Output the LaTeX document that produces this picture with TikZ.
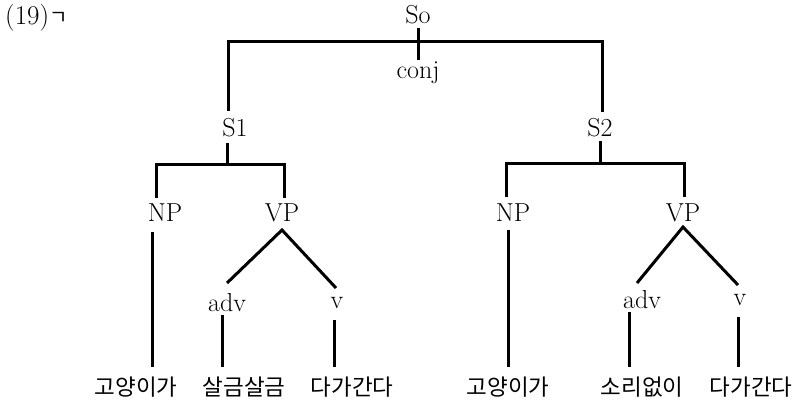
\documentclass[tikz,border=0pt]{standalone}
\usepackage{fontspec}
\newfontfamily\cjk{Noto Sans CJK KR}
\begin{document}
\begin{tikzpicture}[x=1pt,y=-1pt,
  lab/.style={font=\fontsize{26}{29}\selectfont, inner sep=0pt},
  kor/.style={font=\cjk\fontsize{22.5}{26}\selectfont, inner sep=0pt},
  br/.style={line width=3pt, line join=miter}]
\useasboundingbox (0,0) rectangle (803,402);
% title
\node[inner sep=0pt, anchor=west, font=\fontsize{27}{30}\selectfont] (T) at (5,18) {(19){\cjk\fontsize{20}{22}\selectfont ㄱ}};
% labels
\node[lab] (So) at (418,15) {So};
\node[lab] (conj) at (418,73) {conj};
\node[lab] (S1) at (235,128) {S1};
\node[lab] (S2) at (600,128) {S2};
\node[lab] (NP1) at (165,213) {NP};
\node[lab] (VP1) at (282,213) {VP};
\node[lab] (NP2) at (513,213) {NP};
\node[lab] (VP2) at (683,213) {VP};
\node[lab] (adv1) at (227,303) {adv};
\node[lab] (v1) at (337,303) {v};
\node[lab] (adv2) at (642,300) {adv};
\node[lab] (v2) at (740,300) {v};
% words
\node[kor] (w1) at (136,387) {고양이가};
\node[kor] (w2) at (244,387) {살금살금};
\node[kor] (w3) at (352,387) {다가간다};
\node[kor] (w4) at (508,387) {고양이가};
\node[kor] (w5) at (642,387) {소리없이};
\node[kor] (w6) at (751,387) {다가간다};
% connectors
\draw[br] ([yshift=-13pt]So.center) -- ([yshift=13pt]So.center |- conj.center);
\draw[br] ([xshift=-7pt,yshift=17pt]S1.center) -- ++(0,-70) -| ([xshift=2pt,yshift=16pt]S2.center);
\draw[br] ([xshift=-8pt,yshift=-15pt]S1.center) -- ++(0,21);
\draw[br] ([xshift=-9pt,yshift=15pt]NP1.center) -- ++(0,-34) -| ([xshift=2pt,yshift=15pt]VP1.center);
\draw[br] ([yshift=-13pt]S2.center) -- ++(0,22);
\draw[br] ([xshift=-7pt,yshift=16pt]NP2.center) -- ++(0,-34) -| ([xshift=1pt,yshift=16pt]VP2.center);
\draw[br] ([xshift=-13pt,yshift=-19pt]NP1.center) -- ++(0,135);
\draw[br] ([xshift=-5pt,yshift=-17pt]NP2.center) -- ++(0,137);
\draw[br] ([xshift=-55pt,yshift=-70pt]VP1.center) -- ([yshift=-17pt]VP1.center) -- ([xshift=54pt,yshift=-75pt]VP1.center);
\draw[br] ([xshift=-46pt,yshift=-70pt]VP2.center) -- ([yshift=-14pt]VP2.center) -- ([xshift=55pt,yshift=-72pt]VP2.center);
\draw[br] ([xshift=-5pt,yshift=-12pt]adv1.center) -- ++(0,52);
\draw[br] ([xshift=-3pt,yshift=-17pt]v1.center) -- ++(0,47);
\draw[br] ([xshift=-13pt,yshift=-12pt]adv2.center) -- ++(0,55);
\draw[br] ([xshift=-2pt,yshift=-17pt]v2.center) -- ++(0,50);
\end{tikzpicture}
\end{document}
